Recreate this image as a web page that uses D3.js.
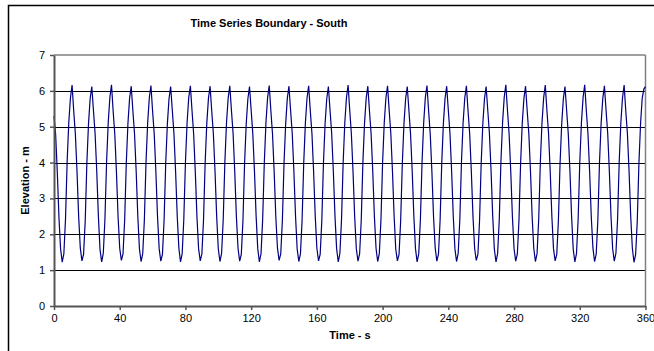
<!DOCTYPE html>
<html lang="en">

<head>
  <meta charset="UTF-8">
  <title>Time Series Boundary - South</title>
  <style>
    html,
    body {
      margin: 0;
      background: #fff;
    }

    svg {
      display: block;
      font-family: Arial, "Liberation Sans", sans-serif;
    }
  </style>
</head>

<body>
  <div id="main"></div>

  <script src="https://cdn.jsdelivr.net/npm/d3@7"></script>

  <script>
    // 数据 (one value per second, one row per wave cycle)
    const elevation = [
      5.30, 4.78, 3.74, 2.48, 1.60, 1.22, 1.46, 2.42, 4.02, 5.12, 5.80, 6.16,
      5.44, 4.80, 3.76, 2.50, 1.62, 1.26, 1.44, 2.38, 3.98, 5.08, 5.78, 6.12,
      5.46, 4.82, 3.78, 2.52, 1.58, 1.23, 1.47, 2.41, 4.01, 5.11, 5.81, 6.17,
      5.43, 4.79, 3.74, 2.49, 1.61, 1.27, 1.45, 2.39, 3.99, 5.09, 5.79, 6.13,
      5.45, 4.81, 3.77, 2.51, 1.59, 1.24, 1.46, 2.40, 4.00, 5.10, 5.80, 6.15,
      5.44, 4.80, 3.75, 2.50, 1.60, 1.25, 1.44, 2.39, 3.98, 5.08, 5.78, 6.12,
      5.46, 4.81, 3.76, 2.51, 1.61, 1.23, 1.46, 2.41, 4.01, 5.11, 5.81, 6.14,
      5.45, 4.79, 3.74, 2.49, 1.60, 1.26, 1.45, 2.40, 4.00, 5.10, 5.79, 6.13,
      5.44, 4.80, 3.76, 2.50, 1.59, 1.24, 1.47, 2.42, 4.02, 5.12, 5.80, 6.14,
      5.45, 4.81, 3.75, 2.50, 1.61, 1.25, 1.44, 2.38, 3.99, 5.09, 5.78, 6.12,
      5.46, 4.80, 3.77, 2.52, 1.60, 1.23, 1.46, 2.41, 4.01, 5.11, 5.81, 6.15,
      5.44, 4.79, 3.74, 2.49, 1.62, 1.27, 1.45, 2.39, 3.98, 5.08, 5.79, 6.13,
      5.45, 4.81, 3.76, 2.51, 1.59, 1.24, 1.46, 2.40, 4.00, 5.10, 5.80, 6.14,
      5.44, 4.80, 3.75, 2.50, 1.61, 1.26, 1.44, 2.38, 3.99, 5.09, 5.78, 6.12,
      5.46, 4.82, 3.77, 2.52, 1.60, 1.23, 1.47, 2.42, 4.02, 5.12, 5.81, 6.16,
      5.45, 4.79, 3.74, 2.49, 1.60, 1.25, 1.45, 2.40, 4.00, 5.10, 5.79, 6.13,
      5.44, 4.80, 3.76, 2.50, 1.61, 1.24, 1.46, 2.41, 4.01, 5.11, 5.80, 6.14,
      5.45, 4.81, 3.75, 2.51, 1.59, 1.26, 1.44, 2.39, 3.98, 5.08, 5.78, 6.12,
      5.46, 4.80, 3.77, 2.52, 1.60, 1.23, 1.46, 2.41, 4.01, 5.11, 5.81, 6.15,
      5.44, 4.79, 3.74, 2.49, 1.62, 1.25, 1.45, 2.40, 4.00, 5.10, 5.79, 6.13,
      5.45, 4.81, 3.76, 2.51, 1.60, 1.24, 1.47, 2.42, 4.02, 5.12, 5.80, 6.14,
      5.44, 4.80, 3.75, 2.50, 1.61, 1.27, 1.44, 2.38, 3.99, 5.09, 5.78, 6.12,
      5.46, 4.82, 3.77, 2.52, 1.59, 1.23, 1.46, 2.41, 4.01, 5.11, 5.81, 6.17,
      5.45, 4.79, 3.74, 2.49, 1.60, 1.25, 1.45, 2.40, 4.00, 5.10, 5.79, 6.13,
      5.44, 4.80, 3.76, 2.50, 1.61, 1.24, 1.46, 2.41, 4.01, 5.11, 5.80, 6.16,
      5.45, 4.81, 3.75, 2.51, 1.60, 1.26, 1.44, 2.39, 3.98, 5.08, 5.78, 6.12,
      5.46, 4.80, 3.77, 2.52, 1.59, 1.23, 1.46, 2.41, 4.01, 5.11, 5.81, 6.17,
      5.44, 4.79, 3.74, 2.49, 1.62, 1.24, 1.45, 2.40, 4.00, 5.10, 5.79, 6.14,
      5.45, 4.81, 3.76, 2.51, 1.60, 1.25, 1.47, 2.42, 4.02, 5.12, 5.80, 6.16,
      5.44, 4.80, 3.75, 2.50, 1.61, 1.22, 1.44, 2.38, 3.99, 5.09, 5.80, 6.05,
      6.12
    ]
    const timeStep = 1
    const xTicks = [0, 40, 80, 120, 160, 200, 240, 280, 320, 360]
    const yTicks = [0, 1, 2, 3, 4, 5, 6, 7]
    const titleText = 'Time Series Boundary - South'
    const xLabel = 'Time - s'
    const yLabel = 'Elevation - m'

    const W = 654
    const H = 351
    const plot = { left: 54, right: 645.5, top: 55, bottom: 306 }

    const svg = d3.select('#main').append('svg').attr('width', W).attr('height', H)

    // 外框
    svg.append('rect')
      .attr('x', 8.5).attr('y', 5.5)
      .attr('width', 700).attr('height', 400)
      .attr('fill', '#fff').attr('stroke', '#000').attr('stroke-width', 1.5)

    const x = d3.scaleLinear().domain([0, 360]).range([plot.left, plot.right])
    const y = d3.scaleLinear().domain([0, 7]).range([plot.bottom, plot.top])

    // 网格
    svg.append('g')
      .selectAll('line')
      .data(yTicks.filter(d => d > 0 && d < 7))
      .join('line')
      .attr('x1', plot.left).attr('x2', plot.right)
      .attr('y1', d => Math.round(y(d)) + 0.5).attr('y2', d => Math.round(y(d)) + 0.5)
      .attr('stroke', '#000').attr('stroke-width', 1)

    // plot border top / right
    svg.append('line')
      .attr('x1', plot.left).attr('x2', plot.right)
      .attr('y1', y(7)).attr('y2', y(7))
      .attr('stroke', '#808080').attr('stroke-width', 1.5)
    svg.append('line')
      .attr('x1', plot.right).attr('x2', plot.right)
      .attr('y1', plot.top).attr('y2', plot.bottom)
      .attr('stroke', '#808080').attr('stroke-width', 1.5)

    // 折线
    const points = elevation.map((v, i) => [i * timeStep, v])
    svg.append('path')
      .datum(points)
      .attr('fill', 'none')
      .attr('stroke', '#000080')
      .attr('stroke-width', 1.2)
      .attr('d', d3.line().x(d => x(d[0])).y(d => y(d[1])))

    // 坐标轴
    const xAxis = svg.append('g')
      .attr('transform', `translate(0,${plot.bottom})`)
      .call(d3.axisBottom(x).tickValues(xTicks).tickFormat(d3.format('d'))
        .tickSize(4).tickPadding(4).tickSizeOuter(0))
    const yAxis = svg.append('g')
      .attr('transform', `translate(${plot.left},0)`)
      .call(d3.axisLeft(y).tickValues(yTicks).tickFormat(d3.format('d'))
        .tickSize(4).tickPadding(5).tickSizeOuter(0))

    ;[xAxis, yAxis].forEach(g => {
      g.select('.domain').attr('stroke', '#555').attr('stroke-width', 2)
      g.selectAll('.tick line').attr('stroke', '#555').attr('stroke-width', 1.5)
      g.selectAll('.tick text')
        .attr('fill', '#000')
        .style('font-size', '11px')
        .style('font-family', 'Arial, "Liberation Sans", sans-serif')
    })

    // 标题
    svg.append('text')
      .attr('x', 269).attr('y', 27)
      .attr('text-anchor', 'middle')
      .style('font-size', '11px').style('font-weight', 'bold')
      .text(titleText)

    svg.append('text')
      .attr('x', 350).attr('y', 339)
      .attr('text-anchor', 'middle')
      .style('font-size', '11px').style('font-weight', 'bold')
      .text(xLabel)

    svg.append('text')
      .attr('transform', `translate(29,${(plot.top + plot.bottom) / 2}) rotate(-90)`)
      .attr('text-anchor', 'middle')
      .style('font-size', '11px').style('font-weight', 'bold')
      .text(yLabel)
  </script>
</body>

</html>
